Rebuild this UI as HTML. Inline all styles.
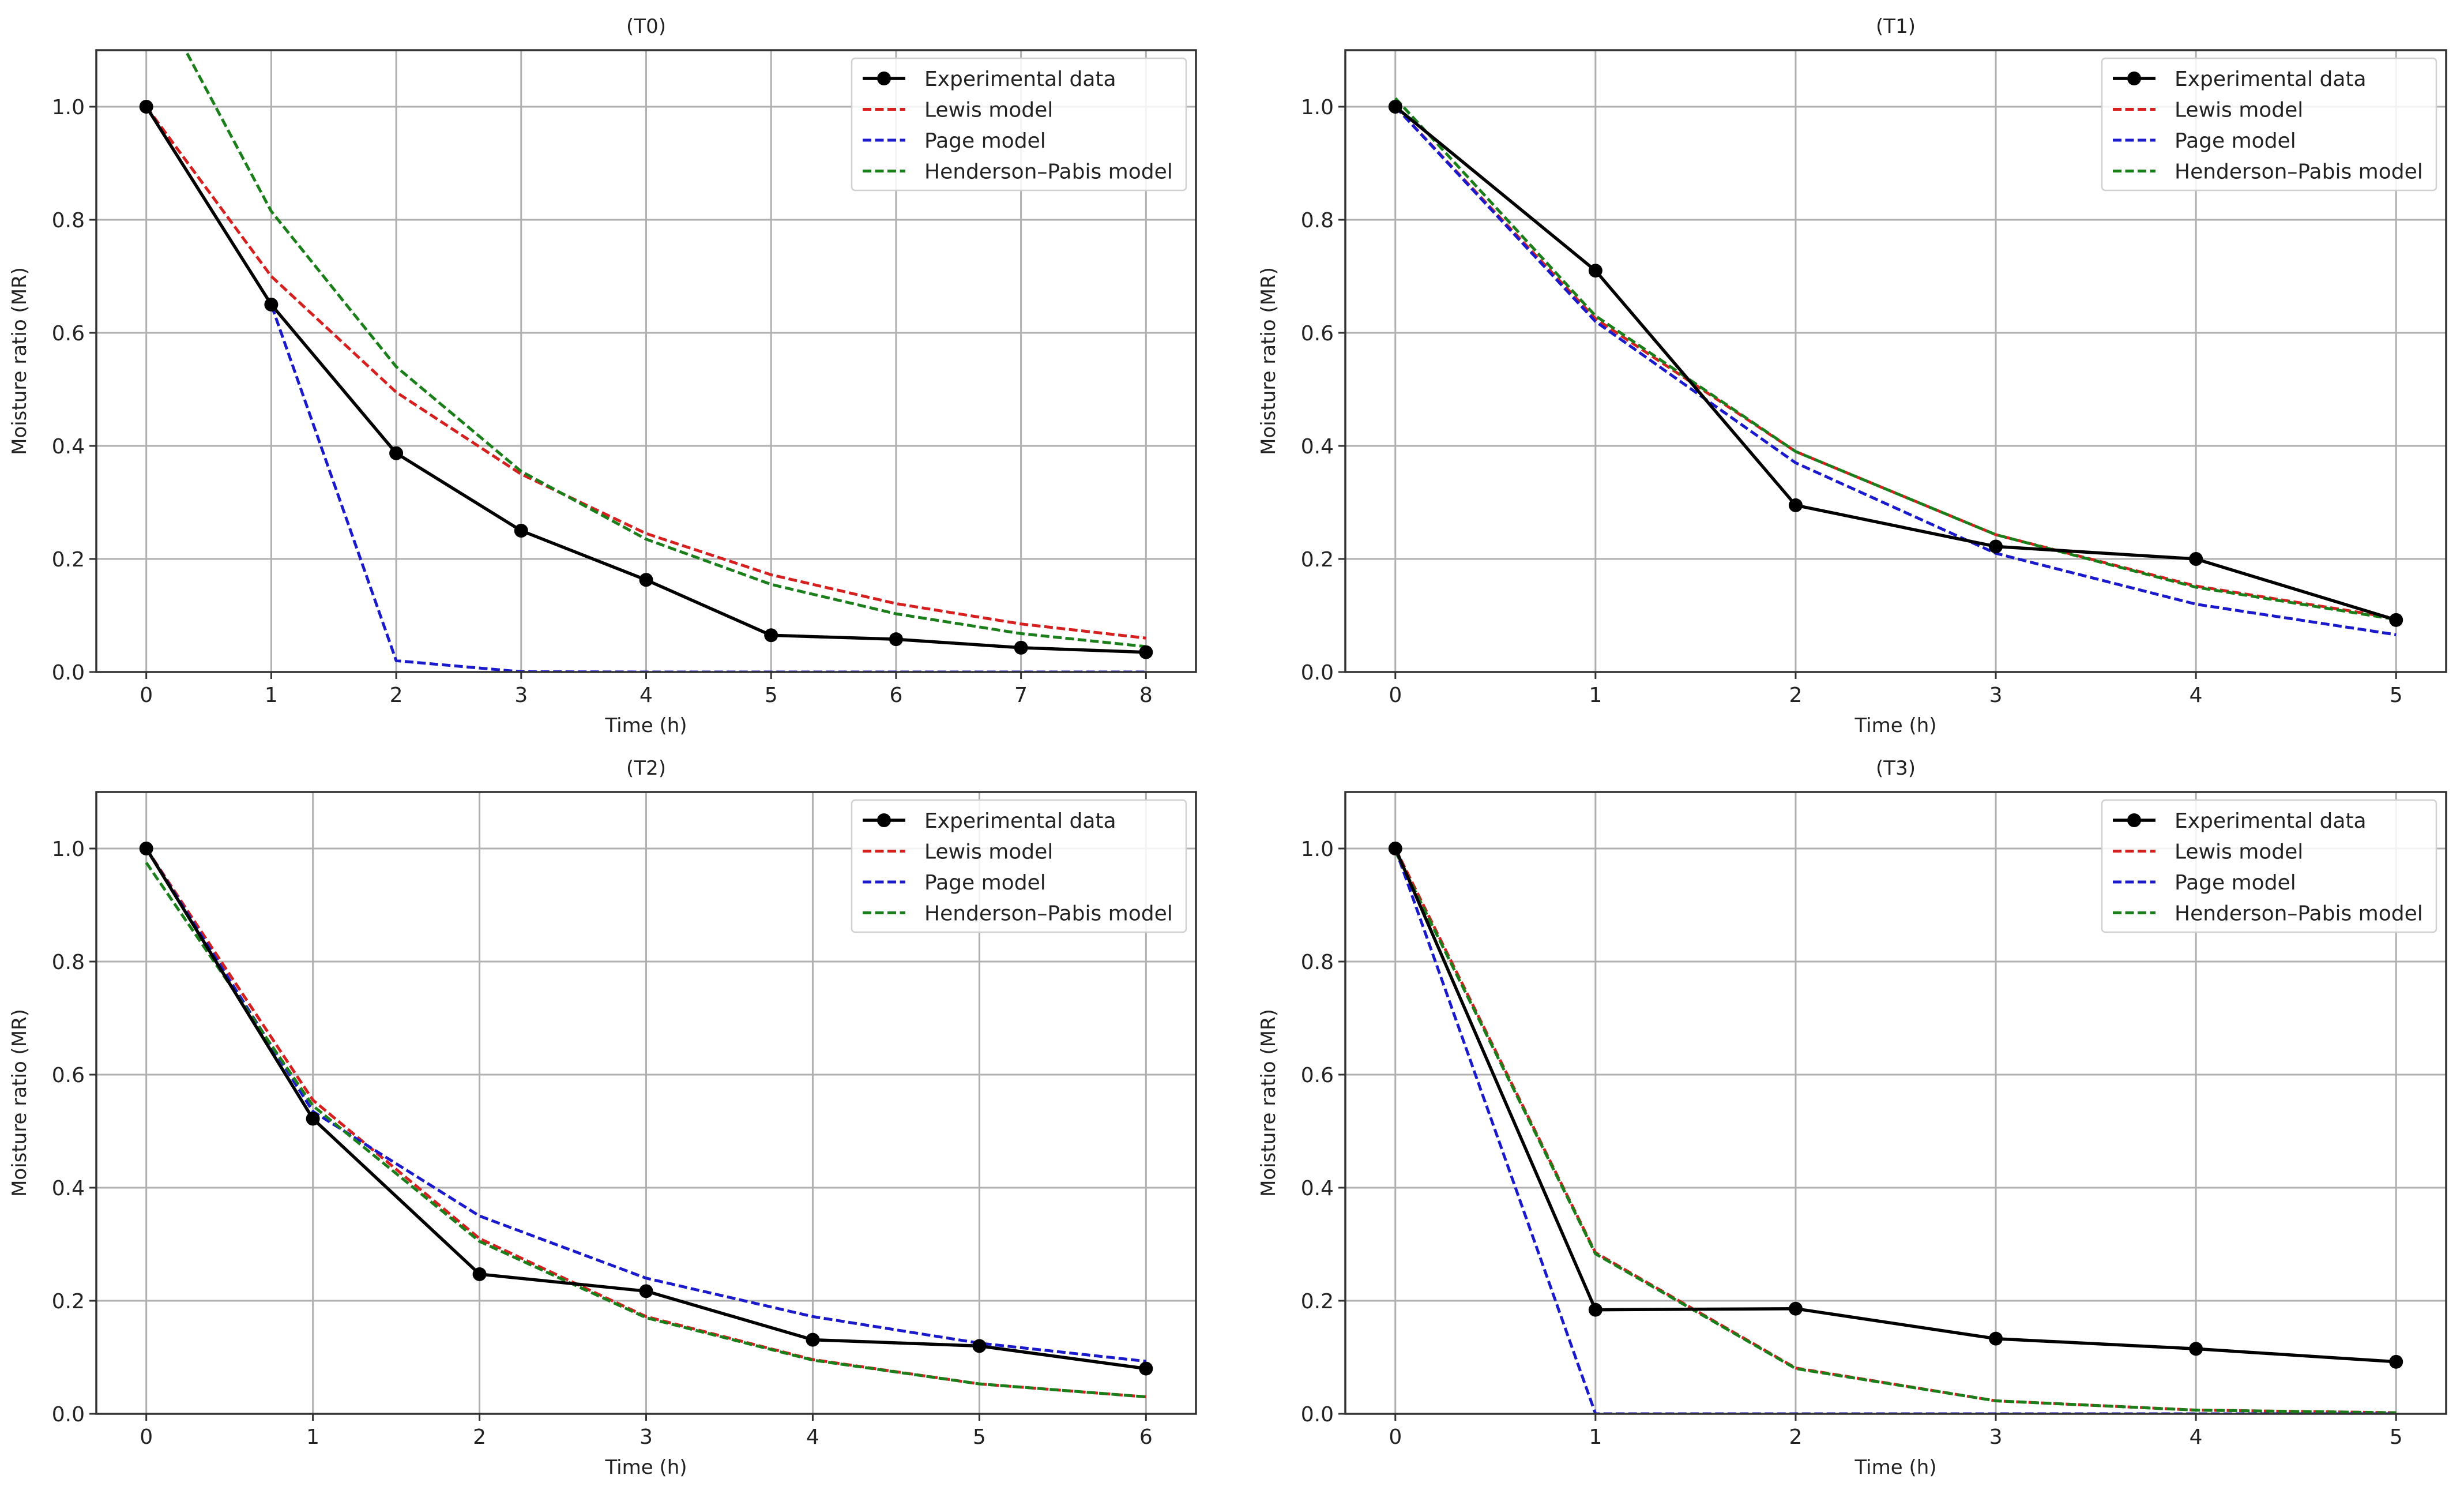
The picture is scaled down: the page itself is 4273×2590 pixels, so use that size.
<!DOCTYPE html>
<html><head><meta charset="utf-8">
<style>
html,body{margin:0;padding:0;background:#fff;}
svg{display:block;font-family:"DejaVu Sans","Liberation Sans",sans-serif;}
</style></head>
<body>
<svg id="fig" width="4273" height="2590" viewBox="0 0 4273 2590" xmlns="http://www.w3.org/2000/svg"></svg>
<script>
const seriesNames = ["Experimental data","Lewis model","Page model","Henderson–Pabis model"];
const panelTitles = ["(T0)","(T1)","(T2)","(T3)"];
const t0Times = [0,1,2,3,4,5,6,7,8];
const t0Exp = [1.0,0.65,0.387,0.25,0.163,0.065,0.058,0.043,0.035];
const t0Lewis = [1.0,0.70,0.495,0.35,0.245,0.172,0.121,0.085,0.06];
const t0Page = [1.0,0.65,0.02,0.0005,0,0,0,0,0];
const t0HP = [1.23,0.815,0.54,0.355,0.235,0.155,0.103,0.068,0.045];
const t1Times = [0,1,2,3,4,5];
const t1Exp = [1.0,0.71,0.295,0.222,0.2,0.092];
const t1Lewis = [1.0,0.625,0.39,0.243,0.152,0.095];
const t1Page = [1.0,0.62,0.37,0.21,0.12,0.066];
const t1HP = [1.015,0.63,0.39,0.243,0.15,0.093];
const t2Times = [0,1,2,3,4,5,6];
const t2Exp = [1.0,0.522,0.247,0.217,0.131,0.12,0.08];
const t2Lewis = [1.0,0.555,0.31,0.172,0.096,0.053,0.03];
const t2Page = [1.0,0.535,0.35,0.24,0.172,0.125,0.093];
const t2HP = [0.975,0.545,0.305,0.17,0.095,0.053,0.03];
const t3Times = [0,1,2,3,4,5];
const t3Exp = [1.0,0.184,0.186,0.133,0.115,0.092];
const t3Lewis = [1.0,0.285,0.081,0.023,0.0066,0.0019];
const t3Page = [1.0,0,0,0,0,0];
const t3HP = [0.995,0.283,0.08,0.023,0.0065,0.0018];
const yTicks = [0,0.2,0.4,0.6,0.8,1.0];
const yTickLabels = ["0.0","0.2","0.4","0.6","0.8","1.0"];

const NS="http://www.w3.org/2000/svg";
const svg=document.getElementById('fig');
function mk(tag,attrs,parent){const e=document.createElementNS(NS,tag);for(const k in attrs)e.setAttribute(k,attrs[k]);(parent||svg).appendChild(e);return e;}

const panels=[
 {L:167,R:2074,T:87,B:1165,times:t0Times,exp:t0Exp,lewis:t0Lewis,page:t0Page,hp:t0HP,id:"t0"},
 {L:2333,R:4242,T:87,B:1165,times:t1Times,exp:t1Exp,lewis:t1Lewis,page:t1Page,hp:t1HP,id:"t1"},
 {L:167,R:2074,T:1373,B:2451,times:t2Times,exp:t2Exp,lewis:t2Lewis,page:t2Page,hp:t2HP,id:"t2"},
 {L:2333,R:4242,T:1373,B:2451,times:t3Times,exp:t3Exp,lewis:t3Lewis,page:t3Page,hp:t3HP,id:"t3"}
];
const colors=["#000000","#d62020","#1a1acc","#1a7f1a"];

panels.forEach((p,pi)=>{
  const g=mk('g',{});
  
  
  const tmax=p.times[p.times.length-1];
  const xmin=-0.05*tmax, xmax=1.05*tmax;
  const X=v=>p.L+(v-xmin)/(xmax-xmin)*(p.R-p.L);
  const Y=v=>p.B-(v/1.1)*(p.B-p.T);
  const clipId='clip'+p.id;
  const cp=mk('clipPath',{id:clipId},g);
  mk('rect',{x:p.L,y:p.T,width:p.R-p.L,height:p.B-p.T},cp);
  p.times.forEach(t=>{
    const l=mk('line',{x1:X(t),x2:X(t),y1:p.T,y2:p.B,stroke:'#b0b0b0','stroke-width':3},g);
    
    
    mk('line',{x1:X(t),x2:X(t),y1:p.B,y2:p.B+12,stroke:'#333','stroke-width':3},g);
    const tx=mk('text',{x:X(t),y:p.B+52,'font-size':36,'text-anchor':'middle',fill:'#222'},g);
    tx.textContent=t;
    
    
  });
  yTicks.forEach((v,i)=>{
    const l=mk('line',{x1:p.L,x2:p.R,y1:Y(v),y2:Y(v),stroke:'#b0b0b0','stroke-width':3},g);
    
    
    mk('line',{x1:p.L-12,x2:p.L,y1:Y(v),y2:Y(v),stroke:'#333','stroke-width':3},g);
    const tx=mk('text',{x:p.L-20,y:Y(v)+13,'font-size':36,'text-anchor':'end',fill:'#222'},g);
    tx.textContent=yTickLabels[i];
    
    
  });
  const sets=[p.exp,p.lewis,p.page,p.hp];
  const sg=mk('g',{'clip-path':'url(#'+clipId+')'},g);
  [1,2,3,0].forEach(si=>{
    const pts=p.times.map((t,i)=>X(t).toFixed(1)+','+Y(sets[si][i]).toFixed(1)).join(' ');
    const pl=mk('polyline',{points:pts,fill:'none',stroke:colors[si],'stroke-width':si==0?5.5:5,'stroke-dasharray':si==0?'none':'15,6.5','stroke-linejoin':'round'},sg);
    
    
  });
  p.times.forEach((t,i)=>{
    const c=mk('circle',{cx:X(t),cy:Y(p.exp[i]),r:12,fill:'#000'},sg);
    
    
  });
  const fr=mk('rect',{x:p.L,y:p.T,width:p.R-p.L,height:p.B-p.T,fill:'none',stroke:'#333','stroke-width':3.5},g);
  
  
  const cx=(p.L+p.R)/2;
  const ti=mk('text',{x:cx,y:p.T-30,'font-size':34,'text-anchor':'middle',fill:'#222'},g);
  ti.textContent=panelTitles[pi];
  
  
  const xl=mk('text',{x:cx,y:p.B+104,'font-size':34,'text-anchor':'middle',fill:'#222'},g);
  xl.textContent='Time (h)';
  
  
  const ym=(p.T+p.B)/2, yx=p.L-122;
  const yl=mk('text',{x:yx,y:ym,'font-size':34,'text-anchor':'middle',fill:'#222',transform:'rotate(-90 '+yx+' '+ym+')'},g);
  yl.textContent='Moisture ratio (MR)';
  
  
  const lg=mk('g',{},g);
  
  
  const lx=p.R-597, ly=p.T+14;
  mk('rect',{x:lx,y:ly,width:580,height:229,rx:6,fill:'#fff','fill-opacity':0.85,stroke:'#d0d0d0','stroke-width':2.5},lg);
  seriesNames.forEach((n,i)=>{
    const yy=ly+35+i*53.5;
    const e=mk('g',{},lg);
    
    
    mk('line',{x1:lx+19,x2:lx+93,y1:yy,y2:yy,stroke:colors[i],'stroke-width':i==0?5.5:5,'stroke-dasharray':i==0?'none':'15,6.5'},e);
    if(i==0) mk('circle',{cx:lx+56,cy:yy,r:12,fill:'#000'},e);
    const t=mk('text',{x:lx+126,y:yy+13,'font-size':36,fill:'#222'},e);
    t.textContent=n;
  });
});
</script>
</body></html>
